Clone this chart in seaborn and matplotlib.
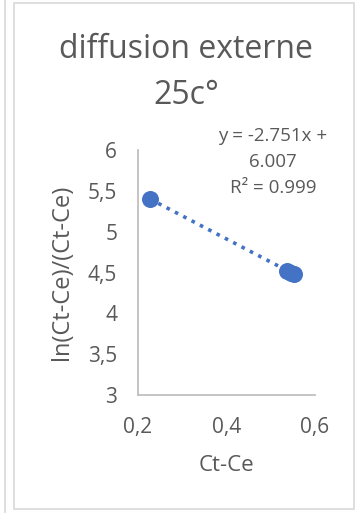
import matplotlib
matplotlib.use("Agg")
import matplotlib.pyplot as plt
import seaborn as sns
import numpy as np
import pandas as pd
from matplotlib.patches import Rectangle
from matplotlib.lines import Line2D

# data
x_vals = [0.227, 0.537, 0.546, 0.553]
y_vals = [5.40, 4.52, 4.50, 4.48]
x_ticks = [0.2, 0.4, 0.6]
x_tick_labels = ["0,2", "0,4", "0,6"]
y_ticks = [3, 3.5, 4, 4.5, 5, 5.5, 6]
y_tick_labels = ["3", "3,5", "4", "4,5", "5", "5,5", "6"]
title_lines = ["diffusion externe", "25c°"]
x_label = "Ct-Ce"
y_label = "ln(Ct-Ce)/(Ct-Ce)"
eq_lines = ["y = -2.751x +", "6.007", "R² = 0.999"]

sns.set_theme(style="white")
plt.rcParams['font.family'] = ['Open Sans', 'DejaVu Sans']
gray = "#595959"
blue = "#4472C4"
W, H = 356, 513

df = pd.DataFrame({"x": x_vals, "y": y_vals})

fig = plt.figure(figsize=(W / 100, H / 100), dpi=100)
ax = fig.add_axes([138 / W, 1 - 395 / H, 177 / W, 245 / H])

sns.regplot(data=df, x="x", y="y", ax=ax, ci=None, scatter=False,
            line_kws=dict(color=blue, linestyle=(0, (1, 1.6)), linewidth=2.6))
sns.scatterplot(data=df, x="x", y="y", ax=ax, color=blue, s=150,
                edgecolor=blue, linewidth=0, zorder=5)

ax.set_xlim(0.2, 0.6)
ax.set_ylim(3, 6)
ax.set_xticks(x_ticks)
ax.set_xticklabels(x_tick_labels)
ax.set_yticks(y_ticks)
ax.set_yticklabels(y_tick_labels)
ax.tick_params(axis="both", length=0, labelsize=15, labelcolor=gray)
ax.tick_params(axis="x", pad=16)
ax.tick_params(axis="y", pad=15)
for s in ["top", "right"]:
    ax.spines[s].set_visible(False)
for s in ["left", "bottom"]:
    ax.spines[s].set_color("#BFBFBF")
    ax.spines[s].set_linewidth(1.3)

ax.set_xlabel(x_label, fontsize=16, color=gray, labelpad=12)
ax.set_ylabel(y_label, fontsize=17, color=gray, va="center")
ax.yaxis.set_label_coords((62 - 138) / 177, 0.5)

for txt, base in zip(title_lines, [58, 104]):
    fig.text(186 / W, 1 - base / H, txt, ha="center", va="baseline",
             fontsize=23, color=gray)
for txt, base in zip(eq_lines, [141, 167, 193]):
    fig.text(273 / W, 1 - base / H, txt, ha="center", va="baseline",
             fontsize=13.5, color=gray)

# chart border and neighbour line
fig.patches.append(Rectangle((14 / W, 4 / H), 340 / W, 506 / H, transform=fig.transFigure,
                             fill=False, edgecolor="#D9D9D9", linewidth=1.2))
fig.lines.append(Line2D([5 / W, 5 / W], [0, 1], transform=fig.transFigure,
                        color="#D9D9D9", linewidth=1.2))

fig.savefig("out.png", dpi=100)
